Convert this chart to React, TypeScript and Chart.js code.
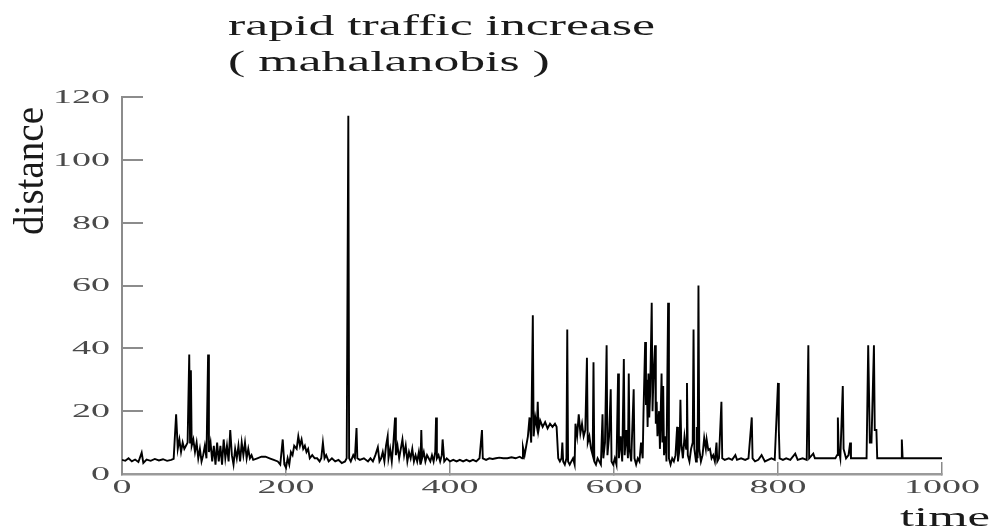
import React, { useEffect, useRef } from 'react';
import { Chart, registerables } from 'chart.js';

Chart.register(...registerables);

// ---- data (time, mahalanobis distance) ----
const times = [
  0, 4, 8, 12, 16, 20, 24, 26, 30, 35, 40, 45, 50, 55, 60, 63,
  66, 68, 70, 72, 74, 76, 78, 80, 82, 83, 84, 85, 87, 89, 91, 93, 95, 97, 99, 101, 103, 105, 106, 108,
  110, 112, 114, 116, 118, 120, 122, 124, 126, 128, 130, 132, 134, 136, 138, 140, 142, 144, 146, 148,
  150, 152, 154, 156, 158, 160, 165, 170, 175, 180, 185, 190, 193, 196, 198, 200, 202, 204, 206, 208,
  210, 213, 215, 217, 219, 221, 223, 225, 227, 229, 232, 235, 238, 241, 243, 245, 247, 249, 252, 256,
  260, 264, 268, 272, 274, 276, 277, 279, 282, 284, 286, 287, 290, 295, 300, 303, 306, 309, 312, 314,
  316, 318, 320, 322, 324, 325, 327, 329, 331, 333, 334, 336, 338, 340, 342, 344, 346, 348, 350, 352,
  354, 356, 358, 360, 362, 364, 365, 366, 368, 370, 372, 374, 376, 378, 380, 382, 383, 384, 386, 388,
  390, 391, 393, 396, 400, 404, 408, 412, 416, 420, 424, 428, 432, 436, 439, 440, 444, 448, 452, 456,
  460, 465, 470, 475, 480, 485, 488, 489, 491, 493, 495, 497, 499, 501, 502, 504, 506, 507, 508, 510,
  513, 516, 519, 522, 525, 528, 530, 532, 534, 536, 537, 538, 540, 542, 543, 544, 546, 548, 550, 552,
  553, 555, 557, 559, 561, 563, 565, 567, 568, 570, 572, 574, 575, 576, 578, 580, 582, 584, 586, 587,
  589, 591, 592, 594, 596, 597, 599, 601, 603, 605, 606, 608, 610, 612, 613, 615, 617, 618, 619, 621,
  622, 624, 625, 627, 629, 631, 633, 635, 636, 638, 639, 640, 641, 642, 643, 644, 646, 647, 648, 650,
  651, 652, 653, 655, 656, 658, 659, 660, 661, 663, 664, 666, 667, 669, 671, 673, 675, 677, 678, 680,
  681, 682, 684, 686, 688, 689, 690, 692, 694, 696, 697, 698, 700, 701, 702, 703, 704, 706, 708, 710,
  712, 713, 715, 717, 719, 721, 723, 725, 726, 728, 731, 732, 735, 740, 744, 748, 750, 755, 760, 764,
  768, 769, 772, 776, 780, 784, 788, 792, 796, 800, 801, 802, 806, 810, 815, 821, 824, 830, 835, 837,
  838, 843, 845, 850, 855, 860, 865, 870, 872, 873, 874, 876, 879, 880, 883, 886, 888, 889, 893, 898,
  903, 908, 910, 912, 914, 917, 918, 920, 921, 925, 930, 935, 940, 945, 950, 951, 952, 957, 962, 967,
  972, 977, 982, 987, 992, 997, 1000,
];

const distances = [
  4.5, 4.2, 5.0, 4.0, 4.6, 3.8, 6.8, 3.5, 4.6, 4.2, 4.8, 4.3, 4.7, 4.2, 4.5, 4.8,
  19, 8, 11, 7, 10, 8, 9, 10, 38, 10, 33, 9, 11, 7, 10, 5, 8, 4, 6, 9, 5, 38, 7, 10,
  4, 9, 3, 10, 4, 9, 3, 11, 5, 9, 4, 14, 6, 3, 8, 5, 9, 4, 10, 6,
  10, 5, 8, 5, 6, 4.5, 5, 5.5, 5.5, 5, 4.5, 4, 3, 11, 3, 2, 5, 3, 7, 6,
  9, 8, 12, 9, 11, 8, 9, 7, 8, 5, 6, 5, 5, 4, 5, 10, 5, 6, 4, 5,
  4, 4.5, 3.5, 4, 5, 114, 5, 4, 6, 5, 14.6, 5, 4.5, 5, 4, 5, 4, 6, 8.5, 4,
  5, 7, 4, 9, 12, 5, 8, 4, 10, 18, 6, 9, 5, 8, 11, 6, 9, 4, 7, 5,
  8, 4, 6, 4, 7, 3, 14, 5, 7, 4, 6, 5, 4, 6, 4, 7, 18, 5, 6, 4,
  6, 11, 4, 5, 4, 4.5, 4, 4.5, 4, 4.5, 4, 4.5, 4, 5, 14, 5, 4.5, 5, 4.8, 5,
  5.2, 5, 5, 5.3, 5, 5.5, 5, 8.5, 6, 9, 12, 18, 10, 50.5, 12, 18, 15, 23, 14, 17,
  15, 16.5, 14.5, 16, 15, 16, 15, 5, 4, 5, 10, 4, 3, 5, 46, 4, 3, 4, 5, 3,
  16, 12, 19, 13, 16, 12, 14, 37, 10, 12, 8, 6, 35.6, 4, 3, 5, 4, 3, 19, 5,
  10, 41, 6, 12, 27, 4, 3, 5, 3, 32, 5, 12, 4, 36.6, 6, 14, 5, 32, 8, 4,
  12, 27, 5, 3, 5, 4, 10, 5, 20, 42, 22, 30, 15, 32, 18, 25, 54.5, 20, 30, 41,
  16, 23, 12, 20, 8, 32, 10, 28, 6, 12, 4, 54.5, 5, 3, 5, 4, 6, 15, 4, 8,
  23.6, 10, 5, 12, 8, 29, 6, 4, 8, 10, 46, 8, 4, 15, 5, 60, 8, 4, 6, 11.5,
  8, 11, 7.6, 8, 5, 6, 4, 10, 4, 5, 23, 5, 4.5, 5, 4.5, 6, 4.5, 5, 4.5, 5,
  18, 5, 4, 4.5, 6, 4, 4.5, 5, 4.5, 29, 14, 5, 4.5, 5, 4.5, 6.5, 4.5, 5, 4.5, 41,
  5, 6.5, 5, 5, 5, 5, 5, 5, 6, 18, 8, 5, 28, 8, 5, 6, 10, 5, 5, 5,
  5, 5, 41, 10, 10, 41, 14, 14, 5, 5, 5, 5, 5, 5, 5, 11, 5, 5, 5, 5,
  5, 5, 5, 5, 5, 5, 5,
];

const xTickValues = [0, 200, 400, 600, 800, 1000];
const yTickValues = [0, 20, 40, 60, 80, 100, 120];
const titleLines = ['rapid traffic increase', '( mahalanobis )'];
const xAxisTitle = 'time';
const yAxisTitle = 'distance';

const SERIF = '"Liberation Serif", "DejaVu Serif", serif';

function drawStretched(
  ctx: CanvasRenderingContext2D,
  text: string,
  x: number,
  y: number,
  size: number,
  sx: number,
  sy: number,
  align: CanvasTextAlign,
  baseline: CanvasTextBaseline,
  color: string,
  rotation = 0,
) {
  ctx.save();
  ctx.font = `${size}px ${SERIF}`;
  ctx.fillStyle = color;
  ctx.textAlign = align;
  ctx.textBaseline = baseline;
  ctx.translate(x, y);
  if (rotation) ctx.rotate(rotation);
  ctx.scale(sx, sy);
  ctx.fillText(text, 0, 0);
  ctx.restore();
}

function measure(ctx: CanvasRenderingContext2D, text: string, size: number) {
  ctx.save();
  ctx.font = `${size}px ${SERIF}`;
  const w = ctx.measureText(text).width;
  ctx.restore();
  return w;
}

const textPlugin = {
  id: 'stretchedText',
  afterDraw(chart: any) {
    const ctx: CanvasRenderingContext2D = chart.ctx;
    const area = chart.chartArea;
    const xs = chart.scales.x;
    const ys = chart.scales.y;
    const tickSize = 19;
    const tickSx = 2.0;
    const tickColor = '#4a4a4a';

    // y tick labels
    ys.ticks.forEach((t: any) => {
      const py = ys.getPixelForValue(t.value);
      drawStretched(ctx, String(t.value), area.left - 12, py + 1, tickSize, tickSx, 1, 'right', 'middle', tickColor);
    });
    // x tick labels
    xs.ticks.forEach((t: any) => {
      const px = xs.getPixelForValue(t.value);
      drawStretched(ctx, String(t.value), px, area.bottom + 14, tickSize, tickSx, 1, 'center', 'middle', tickColor);
    });

    // title (left aligned, horizontally stretched)
    const titleSize = 30;
    const titleSx = 427 / measure(ctx, titleLines[0], titleSize);
    drawStretched(ctx, titleLines[0], 228, 35, titleSize, titleSx, 1, 'left', 'alphabetic', '#1a1a1a');
    drawStretched(ctx, titleLines[1], 228, 71, titleSize, titleSx, 1, 'left', 'alphabetic', '#1a1a1a');

    // x axis title
    const xtSize = 28;
    drawStretched(ctx, xAxisTitle, 900, 526, xtSize, 90 / measure(ctx, xAxisTitle, xtSize), 1, 'left', 'alphabetic', '#1a1a1a');

    // y axis title (rotated)
    const ytSize = 36;
    drawStretched(ctx, yAxisTitle, 43, 171, ytSize, 128 / measure(ctx, yAxisTitle, ytSize), 1.2, 'center', 'alphabetic', '#1a1a1a', -Math.PI / 2);
  },
};

export default function App() {
  const canvasRef = useRef<HTMLCanvasElement | null>(null);

  useEffect(() => {
    document.body.style.margin = '0';
    const canvas = canvasRef.current;
    if (!canvas) return;
    const points = times.map((t, i) => ({ x: t, y: distances[i] }));
    const chart = new Chart(canvas, {
      type: 'line',
      data: {
        datasets: [
          {
            data: points,
            borderColor: '#000000',
            borderWidth: 1.9,
            pointRadius: 0,
            tension: 0,
            fill: false,
          },
        ],
      },
      options: {
        responsive: false,
        animation: false,
        devicePixelRatio: 1,
        layout: { padding: { left: 0, right: 52, top: 97, bottom: 0 } },
        plugins: {
          legend: { display: false },
          title: { display: false },
          tooltip: { enabled: false },
        },
        scales: {
          x: {
            type: 'linear',
            min: 0,
            max: 1000,
            afterBuildTicks: (scale: any) => {
              scale.ticks = xTickValues.map((v) => ({ value: v }));
            },
            afterFit: (scale: any) => {
              scale.height = 57;
            },
            ticks: { display: false },
            grid: {
              display: true,
              drawOnChartArea: false,
              drawTicks: true,
              tickLength: -12,
              color: '#8a8a8a',
              lineWidth: 1.5,
            },
            border: { display: true, color: '#9a9a9a', width: 2.5 },
          },
          y: {
            type: 'linear',
            min: 0,
            max: 120,
            afterBuildTicks: (scale: any) => {
              scale.ticks = yTickValues.map((v) => ({ value: v }));
            },
            afterFit: (scale: any) => {
              scale.width = 122;
            },
            ticks: { display: false },
            grid: {
              display: true,
              drawOnChartArea: false,
              drawTicks: true,
              tickLength: -21,
              color: '#8c8c8c',
              lineWidth: 2,
            },
            border: { display: true, color: '#8c8c8c', width: 2 },
          },
        },
      },
      plugins: [textPlugin],
    } as any);
    return () => chart.destroy();
  }, []);

  return (
    <div style={{ width: 994, height: 531, background: '#ffffff' }}>
      <canvas ref={canvasRef} width={994} height={531} style={{ width: 994, height: 531, display: 'block' }} />
    </div>
  );
}
